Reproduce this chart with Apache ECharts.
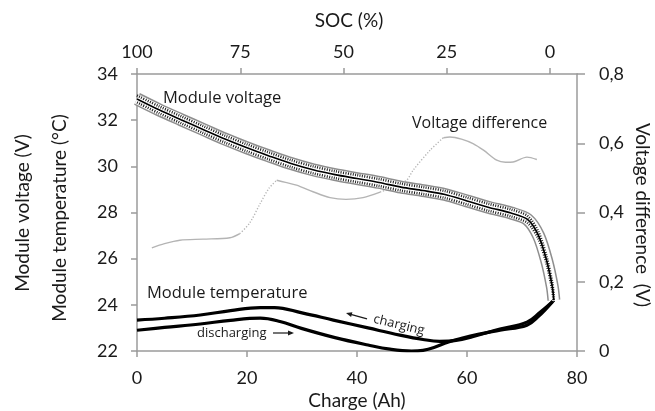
<!DOCTYPE html>
<html>
<head>
<meta charset="utf-8">
<script src="https://cdn.jsdelivr.net/npm/echarts@6/dist/echarts.min.js"></script>
<style>
  html, body { margin: 0; padding: 0; background: #fff; }
  #chart { width: 655px; height: 411px; }
</style>
</head>
<body>
<div id="chart"></div>
<script>
// Charge throughput (Ah) against module voltage (V)
const moduleVoltage = [
  [0, 32.92], [4, 32.45], [8, 32.02], [12, 31.6], [16, 31.18], [20, 30.8],
  [24, 30.45], [28, 30.12], [32, 29.85], [36, 29.64], [40, 29.47], [44, 29.3],
  [48, 29.1], [52, 28.95], [56, 28.78], [60, 28.5], [64, 28.22], [68, 27.98],
  [71, 27.7], [73, 27.0], [74.5, 25.9], [75.5, 24.8], [75.8, 24.2]
];

// Voltage difference between cells (V), right axis
const voltageDifference = [
  [2.7, 0.298], [5, 0.31], [7.8, 0.32], [12, 0.323], [16.9, 0.327], [18.7, 0.339],
  [20.5, 0.37], [22.4, 0.426], [24, 0.47], [25.4, 0.493], [27, 0.487], [29, 0.479],
  [32, 0.46], [35.1, 0.443], [38, 0.438], [41.1, 0.443], [44.2, 0.459], [46, 0.47],
  [49, 0.493], [50.2, 0.522], [53.3, 0.58], [55.7, 0.616], [56.9, 0.618], [59, 0.612],
  [61.1, 0.599], [63, 0.58], [65.4, 0.551], [67, 0.545], [68.4, 0.546], [70.9, 0.56],
  [72.7, 0.553]
];
// Stretches where the difference trace is only sparsely sampled (drawn dotted)
const sparseStretches = [[18.7, 25.4], [44.2, 55.7]];

// Module temperature (°C)
const tempCharging = [
  [0, 23.34], [5, 23.42], [11.5, 23.56], [17, 23.75], [22.4, 23.88], [25, 23.88],
  [30, 23.65], [35.7, 23.34], [42, 23.0], [47.8, 22.69], [52, 22.5], [55, 22.42],
  [58, 22.46], [61, 22.62], [66, 22.95], [70.9, 23.25], [73.3, 23.68], [75.6, 24.15]
];
const tempDischarging = [
  [0, 22.9], [5, 23.02], [11.5, 23.17], [17, 23.33], [22.4, 23.42], [26, 23.28],
  [29.9, 22.98], [36, 22.58], [42, 22.26], [46, 22.08], [49.9, 22.0], [52, 22.03],
  [54, 22.15], [56.5, 22.38], [59, 22.55], [62, 22.72], [66, 22.9], [70.9, 23.12],
  [73, 23.5], [75.6, 24.15]
];

// Axis ticks
const chargeTicks = [0, 20, 40, 60, 80];
const socTicks = [0, 25, 50, 75, 100];
const leftTicks = [22, 24, 26, 28, 30, 32, 34];
const rightTicks = [0, 0.2, 0.4, 0.6, 0.8];
const socZeroAt = 75.1; // Ah at which SOC reaches 0 %

const chart = echarts.init(document.getElementById('chart'), null, { renderer: 'canvas' });

const axisGrey = '#9b9b9b';
const textDark = '#1a1a1a';
const tickFont = 'Lato';
const noteFont = '"Open Sans", "Noto Sans", sans-serif';

const chargeMax = chargeTicks[chargeTicks.length - 1];
const socMin = 100 - chargeMax / socZeroAt * 100;

function between(points, lo, hi) {
  return points.filter(p => p[0] >= lo && p[0] <= hi);
}

// Split the difference trace into solid and dotted stretches
const diffSeries = [];
let start = voltageDifference[0][0];
sparseStretches.forEach(([lo, hi]) => {
  diffSeries.push({ data: between(voltageDifference, start, lo), dotted: false });
  diffSeries.push({ data: between(voltageDifference, lo, hi), dotted: true });
  start = hi;
});
diffSeries.push({ data: between(voltageDifference, start, Infinity), dotted: false });

const bandShift = 0.15; // V, offset of the dotted edges of the voltage band

const baseLine = { type: 'line', showSymbol: false, symbol: 'none', silent: true, animation: false };

const series = [];
diffSeries.forEach(s => {
  series.push(Object.assign({}, baseLine, {
    yAxisIndex: 1,
    data: s.data,
    smooth: 0.3,
    lineStyle: { color: '#b4b4b4', width: 1.4, type: s.dotted ? [1.2, 1.8] : 'solid' }
  }));
});

// Voltage band: grey border, white core, dotted edges, black centre
series.push(Object.assign({}, baseLine, {
  yAxisIndex: 0, data: moduleVoltage, smooth: 0.3,
  lineStyle: { color: '#8e8e8e', width: 13, cap: 'butt', join: 'round' }
}));
series.push(Object.assign({}, baseLine, {
  yAxisIndex: 0, data: moduleVoltage, smooth: 0.3,
  lineStyle: { color: '#ffffff', width: 10, cap: 'butt', join: 'round' }
}));
series.push(Object.assign({}, baseLine, {
  yAxisIndex: 2, data: moduleVoltage, smooth: 0.3,
  lineStyle: { color: '#1a1a1a', width: 2.6, type: [1, 1.4] }
}));
series.push(Object.assign({}, baseLine, {
  yAxisIndex: 3, data: moduleVoltage, smooth: 0.3,
  lineStyle: { color: '#1a1a1a', width: 2.6, type: [1, 1.4] }
}));
series.push(Object.assign({}, baseLine, {
  yAxisIndex: 0, data: moduleVoltage, smooth: 0.3,
  lineStyle: { color: '#000', width: 1.6 }
}));

// Temperature curves
[tempCharging, tempDischarging].forEach(d => {
  series.push(Object.assign({}, baseLine, {
    yAxisIndex: 0, data: d, smooth: 0.4,
    lineStyle: { color: '#000', width: 3.2 }
  }));
});

const tickLabel = { color: textDark, fontFamily: tickFont, fontSize: 18 };
const lineGrey = { color: axisGrey, width: 1.5 };

const option = {
  backgroundColor: '#ffffff',
  animation: false,
  grid: { left: 137, right: 78, top: 74, bottom: 60, containLabel: false },
  xAxis: [
    {
      type: 'value', position: 'bottom',
      min: chargeTicks[0], max: chargeMax, interval: 20,
      axisLine: { show: true, onZero: false, lineStyle: lineGrey },
      axisTick: { show: true, length: 6, lineStyle: lineGrey },
      axisLabel: Object.assign({ margin: 18 }, tickLabel),
      splitLine: { show: false }
    },
    {
      type: 'value', position: 'top', inverse: true,
      min: socMin, max: 100,
      axisLine: { show: true, onZero: false, lineStyle: lineGrey },
      axisTick: { show: true, length: 6, customValues: socTicks, lineStyle: lineGrey },
      axisLabel: Object.assign({ margin: 13, customValues: socTicks }, tickLabel),
      splitLine: { show: false }
    }
  ],
  yAxis: [
    {
      type: 'value', position: 'left',
      min: leftTicks[0], max: leftTicks[leftTicks.length - 1], interval: 2,
      axisLine: { show: true, onZero: false, lineStyle: lineGrey },
      axisTick: { show: true, length: 6, lineStyle: lineGrey },
      axisLabel: Object.assign({ margin: 19 }, tickLabel),
      splitLine: { show: false }
    },
    {
      type: 'value', position: 'right',
      min: rightTicks[0], max: rightTicks[rightTicks.length - 1], interval: 0.2,
      axisLine: { show: true, onZero: false, lineStyle: lineGrey },
      axisTick: { show: true, length: 8, lineStyle: lineGrey },
      axisLabel: Object.assign({
        margin: 22,
        formatter: v => (Math.abs(v) < 1e-9 ? '0' : v.toFixed(1).replace('.', ','))
      }, tickLabel),
      splitLine: { show: false }
    },
    // hidden copies of the voltage scale, nudged up and down for the band edges
    { type: 'value', show: false, axisLine: { onZero: false }, min: leftTicks[0] - bandShift, max: leftTicks[leftTicks.length - 1] - bandShift },
    { type: 'value', show: false, axisLine: { onZero: false }, min: leftTicks[0] + bandShift, max: leftTicks[leftTicks.length - 1] + bandShift }
  ],
  series: series,
  graphic: [
    // axis titles
    { type: 'text', x: 349, y: 21, style: { text: 'SOC (%)', fill: textDark, font: '19px Lato', align: 'center', verticalAlign: 'middle' } },
    { type: 'text', x: 357, y: 401, style: { text: 'Charge (Ah)', fill: textDark, font: '19px Lato', align: 'center', verticalAlign: 'middle' } },
    { type: 'text', x: 23, y: 213, rotation: Math.PI / 2, style: { text: 'Module voltage (V)', fill: textDark, font: '19px Lato', align: 'center', verticalAlign: 'middle' } },
    { type: 'text', x: 60, y: 218, rotation: Math.PI / 2, style: { text: 'Module temperature (°C)', fill: textDark, font: '19px Lato', align: 'center', verticalAlign: 'middle' } },
    { type: 'text', x: 642, y: 215, rotation: -Math.PI / 2, style: { text: 'Voltage difference  (V)', fill: textDark, font: '19px Lato', align: 'center', verticalAlign: 'middle' } },

    // curve annotations
    { type: 'text', x: 163, y: 98, style: { text: 'Module voltage', fill: textDark, font: '16.5px ' + noteFont, align: 'left', verticalAlign: 'middle' } },
    { type: 'text', x: 412, y: 123, style: { text: 'Voltage difference', fill: textDark, font: '16px ' + noteFont, align: 'left', verticalAlign: 'middle' } },
    { type: 'text', x: 147, y: 293, style: { text: 'Module temperature', fill: textDark, font: '16.5px ' + noteFont, align: 'left', verticalAlign: 'middle' } },
    { type: 'text', x: 197, y: 333, style: { text: 'discharging', fill: textDark, font: '13px ' + noteFont, align: 'left', verticalAlign: 'middle' } },
    { type: 'line', shape: { x1: 273, y1: 333, x2: 292, y2: 333 }, style: { stroke: textDark, lineWidth: 1.2 } },
    { type: 'polygon', shape: { points: [[294, 333], [288, 330.5], [288, 335.5]] }, style: { fill: textDark } },
    { type: 'text', x: 399, y: 325, rotation: -0.235, style: { text: 'charging', fill: textDark, font: '13px ' + noteFont, align: 'center', verticalAlign: 'middle' } },
    { type: 'line', shape: { x1: 349, y1: 313.8, x2: 367, y2: 318.8 }, style: { stroke: textDark, lineWidth: 1.2 } },
    { type: 'polygon', shape: { points: [[346, 313], [352.4, 312.2], [351.1, 317]] }, style: { fill: textDark } }
  ]
};

chart.setOption(option);
</script>
</body>
</html>
